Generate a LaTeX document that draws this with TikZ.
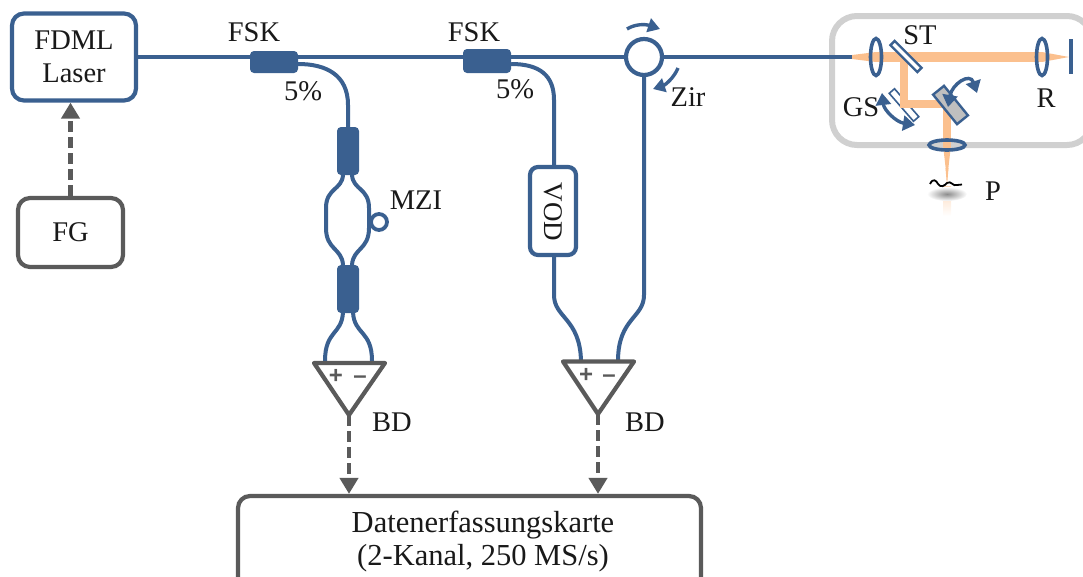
\documentclass[tikz,border=0pt]{standalone}
\usepackage{fontspec}
\setmainfont{Liberation Serif}
\setsansfont{Liberation Sans}
\usetikzlibrary{shapes.geometric,arrows.meta,calc}
\definecolor{fib}{RGB}{58,96,144}
\definecolor{dk}{RGB}{90,90,90}
\definecolor{beam}{RGB}{251,192,142}
\definecolor{hous}{RGB}{208,208,208}
\tikzset{
 x=1pt,y=-1pt,
 lab/.style={font=\fontsize{28.5}{33}\selectfont,inner sep=0pt,text=black!90},
 biglab/.style={font=\fontsize{30.5}{33}\selectfont,inner sep=0pt,text=black!90},
 fiber/.style={draw=fib,line width=4pt},
 blbox/.style={draw=fib,line width=4.2pt,rounded corners=12pt,fill=white,inner sep=0pt},
 gybox/.style={draw=dk,line width=4.2pt,rounded corners=12pt,fill=white,inner sep=0pt},
 coupler/.style={fill=fib,rounded corners=4pt,inner sep=0pt},
 dasharrow/.style={draw=dk,line width=4.2pt,dash pattern=on 11pt off 5pt,-{Triangle[length=16pt,width=18pt]}},
 sarrow/.style={draw=fib,line width=3.4pt,-{Triangle[length=12pt,width=14pt]}},
 darrow/.style={draw=fib,line width=3.4pt,{Triangle[length=12pt,width=15pt]}-{Triangle[length=12pt,width=15pt]}},
 lens/.style={ellipse,draw=fib,line width=3.6pt,inner sep=0pt},
 bd/.style={draw=dk,line width=4.2pt,line join=round,fill=white},
 pm/.style={font=\fontsize{24}{24}\selectfont\sffamily\bfseries,text=dk,inner sep=0pt},
}
\begin{document}
\begin{tikzpicture}
\useasboundingbox (0,0) rectangle (1083,576);
\clip (0,0) rectangle (1083,576);
% Housing
\node[draw=hous,line width=6pt,rounded corners=25pt,minimum width=260pt,minimum height=129pt,inner sep=0pt] (head) at (962,80.5) {};
% Scanner mirror under the beam
\node[draw=fib,line width=1.6pt,fill=white,minimum width=37pt,minimum height=7pt,inner sep=0pt,rotate=-49] (gs) at (904,105) {};
% Beam
\fill[beam] (852,55) -- (876,52) -- (876,62) -- (852,59) -- cycle;
\fill[beam] (876,52) rectangle (1042,62);
\fill[beam] (1042,52) -- (1069,57) -- (1042,62) -- cycle;
\fill[beam] (900,57) rectangle (908,108);
\fill[beam] (900,100) rectangle (952,108);
\fill[beam] (943,100) rectangle (951,145);
\fill[beam] (943,145) -- (951,145) -- (947,180) -- cycle;
\shade[top color=beam!60,bottom color=white] (943,186) rectangle (951,216);
\shade[inner color=black!45,outer color=white,shading=radial] (947,194) ellipse (20 and 7);
\fill[beam] (945.5,168) -- (948.5,168) -- (947,186) -- cycle;
% Sources
\node[blbox,minimum width=124pt,minimum height=87pt,align=center,lab] (laser) at (74,57) {FDML\\Laser};
\node[gybox,minimum width=105pt,minimum height=69pt,lab] (fg) at (70.5,232.5) {FG};
\node[gybox,minimum width=463pt,minimum height=100pt] (card) at (469.5,546) {};
\node[biglab] (cardA) at (483,525) {Datenerfassungskarte};
\node[biglab] (cardB) at (483,558) {(2-Kanal, 250 MS/s)};
% Components
\node[coupler,minimum width=48pt,minimum height=22pt] (fsk1) at (274,62) {};
\node[coupler,minimum width=48pt,minimum height=24pt] (fsk2) at (487,61) {};
\node[coupler,minimum width=22pt,minimum height=48pt] (c1) at (348,151) {};
\node[coupler,minimum width=22pt,minimum height=48pt] (c2) at (348,289) {};
\node[circle,draw=fib,line width=4.2pt,minimum size=36pt,inner sep=0pt] (zir) at (644,57) {};
\node[circle,draw=fib,line width=3.8pt,minimum size=16pt,inner sep=0pt] (loop) at (379,222) {};
\node[blbox,rounded corners=8pt,minimum width=46pt,minimum height=88pt] (vod) at (553,211) {};
\node[lab,font=\fontsize{27}{27}\selectfont,rotate=-90] (vodt) at (553,212) {VOD};
% Fibers
\coordinate (fibend) at (852,57);
\draw[fiber] (laser.east) -- (zir.west);
\draw[fiber] (zir.east) -- (fibend);
\draw[fiber] (fsk1.east) ++(0,2) coordinate (b1) .. controls +(28,0) and (348,75) .. (348,105) -- (c1.north);
\draw[fiber] (fsk2.east) ++(0,3) coordinate (b2) .. controls +(28,0) and (554,75) .. (554,100) -- (vod.north -| 554,0);
% MZI
\draw[fiber] (343,175) .. controls (342,190) and (326,188) .. (326,208) -- (326,228) .. controls (326,250) and (342,248) .. (343,265);
\draw[fiber] (352,175) .. controls (353,190) and (369,188) .. (369,208) -- (369,228) .. controls (369,250) and (353,248) .. (352,265);
% Triangles
\coordinate (t1) at (349,415);
\coordinate (t2) at (598,414);
\draw[fiber] (343,312) .. controls (342,335) and (325,330) .. (325,361);
\draw[fiber] (353,312) .. controls (354,335) and (372,330) .. (372,361);
\draw[fiber] (554,255) -- (554,295) .. controls (554,318) and (580,318) .. (581,361);
\draw[fiber] (zir.south) -- (644,295) .. controls (644,318) and (618,318) .. (618,361);
\draw[bd] (314,363) -- (385,363) -- (t1) -- cycle;
\draw[bd] (563,361.5) -- (634,361.5) -- (t2) -- cycle;
\node[pm] (p1) at (336,376) {+};
\node[pm] (m1) at (360,380) {–};
\node[pm] (p2) at (586,375) {+};
\node[pm] (m2) at (609,379) {–};
% Dashed
\draw[dasharrow] (fg.north) -- (laser.south -| fg.north);
\draw[dasharrow] (t1) -- (t1 |- card.north);
\draw[dasharrow] (t2) -- (t2 |- card.north);
% Circulator arrows
\coordinate (za) at (627,29); \coordinate (zb) at (660,29);
\coordinate (zc) at (678,68); \coordinate (zd) at (653,89);
\draw[sarrow] (za) .. controls (635,24) and (645,24) .. (zb);
\draw[sarrow] (zc) .. controls (674,78) and (665,85) .. (zd);
% Optics
\node[lens,minimum width=11pt,minimum height=37pt] (l1) at (876,57) {};
\node[lens,minimum width=11pt,minimum height=37pt] (l2) at (1042,57) {};
\node[lens,minimum width=36pt,minimum height=10pt] (l3) at (947,145) {};
\coordinate (ra) at (1071,39); \coordinate (rb) at (1071,74);
\draw[draw=fib,line width=3.2pt] (ra) -- (rb);
\node[draw=fib,line width=2.4pt,fill=white,minimum width=38pt,minimum height=6pt,inner sep=0pt,rotate=-45] (st) at (906,56.5) {};
\node[draw=fib,line width=2.4pt,fill=black!25,minimum width=38pt,minimum height=14pt,inner sep=0pt,rotate=-51] (gm) at (950.5,105) {};
\coordinate (ga) at (882,93); \coordinate (gb) at (915,125);
\draw[darrow] (ga) .. controls (884,110) and (896,122) .. (gb);
\coordinate (ha) at (948,107); \coordinate (hb) at (977,93);
\draw[darrow] (ha) .. controls (952,84) and (970,72) .. (hb);
\draw[black,line width=1.8pt] (930,184) .. controls (933,178) and (936,180) .. (938,184) .. controls (941,188) and (944,186) .. (947,183) .. controls (951,180) and (953,187) .. (957,185) -- (962,184.5);
% Labels
\node[lab] (lfsk1) at (254,32) {FSK};
\node[lab] (lfsk2) at (474,32) {FSK};
\node[lab] (p5a) at (303,91) {5\%};
\node[lab] (p5b) at (515,89) {5\%};
\node[lab] (lmzi) at (416,200) {MZI};
\node[lab] (lzir) at (688,97) {Zir};
\node[lab] (lbd1) at (392,422) {BD};
\node[lab] (lbd2) at (645,422) {BD};
\node[lab] (lst) at (920,35) {ST};
\node[lab] (lgs) at (861,107) {GS};
\node[lab] (lr) at (1046,98) {R};
\node[lab] (lp) at (993,191) {P};
\end{tikzpicture}
\end{document}
